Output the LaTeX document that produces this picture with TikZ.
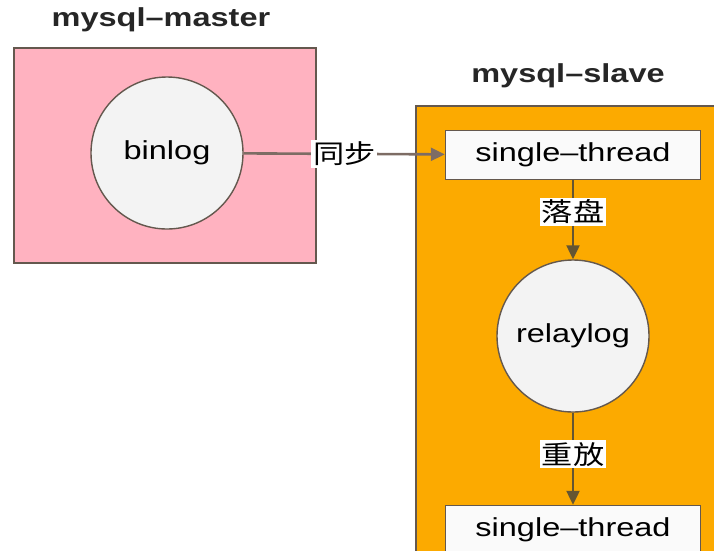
\documentclass[tikz,border=0pt]{standalone}
\usepackage{fontspec}
\setmainfont[FakeStretch=1.25]{Liberation Sans}
\newfontfamily\cjkfont[FakeStretch=1.2]{Noto Sans CJK SC}
\usetikzlibrary{positioning, arrows.meta}
\definecolor{rosam}{RGB}{255, 178, 192}
\definecolor{naranjas}{RGB}{252, 170, 0}
\definecolor{bordeg}{RGB}{100, 88, 78}
\definecolor{circgris}{RGB}{243, 243, 243}
\definecolor{flechac}{RGB}{100, 85, 50}
\definecolor{lineam}{RGB}{125, 108, 100}

\begin{document}
\begin{tikzpicture}[x=1pt, y=-1pt,
    titulo/.style={font=\fontsize{26}{30}\selectfont\bfseries, text=black!85},
    caja/.style={draw=bordeg, line width=1.6pt, anchor=north west, inner sep=0pt},
    logc/.style={circle, draw=bordeg, fill=circgris, line width=1.4pt, minimum size=152pt, inner sep=0pt, font=\fontsize{26}{30}\selectfont},
    hilo/.style={rectangle, draw=bordeg, fill=white!96!gray, line width=1.4pt, minimum width=255pt, minimum height=49pt, inner sep=0pt, font=\fontsize{26}{30}\selectfont},
    etiq/.style={fill=white, inner sep=2pt, font=\cjkfont\fontsize{26}{30}\selectfont},
    flecha/.style={-{Triangle[length=14pt, width=13pt]}, draw=flechac, line width=2.2pt}]
        \useasboundingbox (0,0) rectangle (714,550);
        \clip (0,0) rectangle (714,550);
        % master side
        \node[titulo] (tmaster) at (161,20) {mysql\textendash master};
        \node[caja, fill=rosam, minimum width=302pt, minimum height=215pt] (master) at (13,47) {};
        \node[logc] (binlog) at (167,153) {binlog};
        % slave side
        \node[titulo] (tslave) at (568,76) {mysql\textendash slave};
        \node[caja, fill=naranjas, minimum width=330pt, minimum height=480pt] (slave) at (415,105) {};
        \node[hilo] (hilo1) at (573,155) {single\textendash thread};
        \node[logc] (relay) at (573,336) {relaylog};
        \node[hilo] (hilo2) at (573,530) {single\textendash thread};
        % connectors
        \draw[flecha, draw=lineam, line width=2.6pt] (binlog) -- (hilo1) node[etiq, midway] {同步};
        \draw[flecha] (hilo1) -- (relay) node[etiq, pos=0.4] {落盘};
        \draw[flecha] (relay) -- (hilo2) node[etiq, pos=0.45] {重放};
      \end{tikzpicture}
\end{document}
